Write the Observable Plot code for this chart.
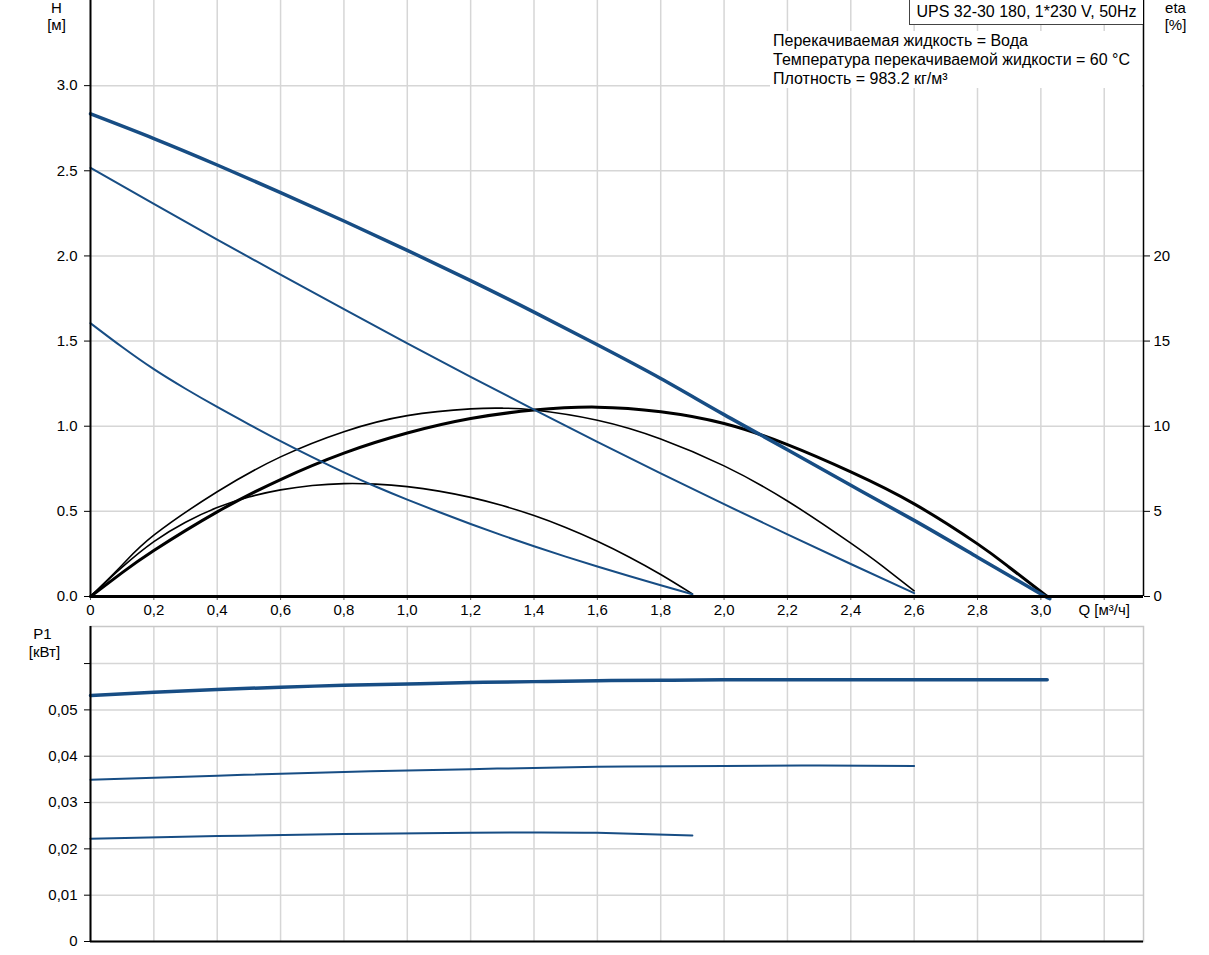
<!DOCTYPE html>
<html><head><meta charset="utf-8">
<script src="https://cdn.jsdelivr.net/npm/d3@7"></script>
<script src="https://cdn.jsdelivr.net/npm/@observablehq/plot@0.6"></script>
<style>
body{margin:0;background:#fff;font-family:"Liberation Sans",Arial,sans-serif;}
#wrap{position:relative;width:1209px;height:955px;overflow:hidden;background:#fff;}
#topPanel{position:absolute;left:0;top:0;}
#botPanel{position:absolute;left:0;top:620px;}
.info{position:absolute;left:770px;top:31px;width:369px;height:57px;background:#fff;font-size:16px;line-height:19px;padding-left:3px;color:#000;white-space:nowrap;}
.title{position:absolute;left:909px;top:0;width:233px;height:24px;border-left:1px solid #444;border-bottom:1px solid #444;background:#fff;font-size:16px;line-height:24px;text-align:center;color:#000;white-space:nowrap;}
</style></head>
<body><div id="wrap"><div id="topPanel"></div><div id="botPanel"></div>
<div class="info">Перекачиваемая жидкость = Вода<br>Температура перекачиваемой жидкости = 60 °C<br>Плотность = 983.2 кг/м³</div>
<div class="title">UPS 32-30 180, 1*230 V, 50Hz</div></div>
<script>
// ---- data ----
const xMax = 3.324;
const hMax = 3.5;
const pMax = 0.068;
const xTicks = [0,0.2,0.4,0.6,0.8,1.0,1.2,1.4,1.6,1.8,2.0,2.2,2.4,2.6,2.8,3.0,3.2];
const hTicks = [0,0.5,1.0,1.5,2.0,2.5,3.0];
const etaTicks = [0,5,10,15,20];
const pTicks = [0,0.01,0.02,0.03,0.04,0.05,0.06];
const qAxisLabel = "Q [м³/ч]";

// H curves [м]
const qH3 = [0,0.2,0.4,0.6,0.8,1.0,1.2,1.4,1.6,1.8,2.0,2.2,2.4,2.6,2.8,3.0,3.02];
const h3  = [2.834,2.689,2.534,2.372,2.205,2.033,1.855,1.670,1.478,1.280,1.068,0.862,0.653,0.447,0.231,0.015,0];
const qH2 = [0,0.2,0.4,0.6,0.8,1.0,1.2,1.4,1.6,1.8,2.0,2.2,2.4,2.6];
const h2  = [2.517,2.305,2.096,1.890,1.687,1.487,1.290,1.097,0.908,0.723,0.542,0.365,0.191,0.02];
const qH1 = [0,0.1,0.2,0.3,0.4,0.5,0.6,0.7,0.8,0.9,1.0,1.1,1.2,1.3,1.4,1.5,1.6,1.7,1.8,1.9];
const h1  = [1.605,1.465,1.335,1.22,1.113,1.011,0.912,0.818,0.729,0.646,0.569,0.496,0.426,0.359,0.295,0.234,0.176,0.12,0.066,0.013];

// eta curves [%]
const qE3 = [0,0.1,0.2,0.4,0.6,0.8,1.0,1.2,1.4,1.6,1.8,2.0,2.2,2.4,2.6,2.8,2.9,3.02];
const e3  = [0,1.4,2.70,4.97,6.87,8.42,9.6,10.45,10.95,11.12,10.85,10.16,8.92,7.32,5.44,3.09,1.72,0];
const qE2 = [0,0.1,0.2,0.4,0.6,0.8,1.0,1.2,1.3,1.4,1.6,1.8,2.0,2.2,2.4,2.5,2.6];
const e2  = [0,1.85,3.6,6.15,8.2,9.68,10.62,11.02,11.06,10.95,10.35,9.25,7.67,5.61,3.13,1.78,0.33];
const qE1 = [0,0.1,0.2,0.3,0.4,0.5,0.6,0.7,0.8,0.9,1.0,1.1,1.2,1.3,1.4,1.5,1.6,1.7,1.8,1.9];
const e1  = [0,1.72,3.22,4.36,5.22,5.84,6.26,6.52,6.63,6.60,6.45,6.19,5.82,5.34,4.75,4.05,3.24,2.32,1.29,0.15];

// P1 curves [кВт]
const qP3 = [0,0.2,0.4,0.6,0.8,1.0,1.2,1.4,1.6,1.8,2.0,2.4,2.8,3.02];
const p3  = [0.0531,0.0538,0.0544,0.0549,0.0553,0.0556,0.0559,0.0561,0.0563,0.0564,0.0565,0.0565,0.0565,0.0565];
const qP2 = [0,0.4,0.8,1.2,1.6,2.0,2.3,2.6];
const p2  = [0.0349,0.0358,0.0366,0.0372,0.0377,0.0379,0.0380,0.0379];
const qP1 = [0,0.4,0.8,1.2,1.4,1.6,1.9];
const p1  = [0.0222,0.02275,0.0232,0.02348,0.02355,0.02345,0.0229];

// ---- helpers ----
const ser = (qs, vs, k=1) => qs.map((q,i)=>({q, v: vs[i]*k}));
const blue = "#174d84";
const grid = "#d6d6d6";
const curve = "natural";
const font = {fontFamily:"'Liberation Sans', Arial, sans-serif", fontSize:"15px", color:"#000", background:"transparent", overflow:"visible"};
const xFmt = d => d === 0 ? "0" : (Math.abs(d-3.2)<1e-9 ? qAxisLabel : d.toFixed(1).replace(".", ","));
const lbl = (t, anchor, dx, dy) => Plot.text([t], {frameAnchor:anchor, dx, dy, textAnchor:"middle", lineAnchor:"middle", fontSize:15, fill:"#000"});

const topChart = Plot.plot({
  width: 1209, height: 620,
  marginLeft: 90, marginRight: 66, marginTop: 0, marginBottom: 24,
  style: font,
  x: {domain:[0,xMax]},
  y: {domain:[0,hMax]},
  marks: [
    Plot.ruleX(xTicks.slice(1), {stroke:grid, strokeWidth:1.5}),
    Plot.ruleY(hTicks.slice(1), {stroke:grid, strokeWidth:1.5}),
    Plot.line(ser(qE1,e1,0.1), {x:"q", y:"v", stroke:"#000", strokeWidth:1.6, curve}),
    Plot.line(ser(qE2,e2,0.1), {x:"q", y:"v", stroke:"#000", strokeWidth:1.6, curve}),
    Plot.line(ser(qE3,e3,0.1), {x:"q", y:"v", stroke:"#000", strokeWidth:3, curve}),
    Plot.line(ser(qH1,h1), {x:"q", y:"v", stroke:blue, strokeWidth:2, curve}),
    Plot.line(ser(qH2,h2), {x:"q", y:"v", stroke:blue, strokeWidth:2, curve}),
    Plot.line(ser(qH3,h3), {x:"q", y:"v", stroke:blue, strokeWidth:3.5, curve}),
    Plot.axisX({ticks:xTicks, tickFormat:xFmt, tickSize:4, tickPadding:4, label:null, stroke:"#555"}),
    Plot.axisY({ticks:hTicks, tickFormat:d3.format(".1f"), tickSize:6, tickPadding:7, label:null}),
    Plot.axisY({anchor:"right", ticks:etaTicks.map(d=>d/10), tickFormat:d=>String(Math.round(d*10)), tickSize:6, tickPadding:4, label:null}),
    Plot.ruleX([0], {stroke:"#000", strokeWidth:2}),
    Plot.ruleX([xMax], {stroke:"#000", strokeWidth:1.5}),
    Plot.ruleY([0], {stroke:"#000", strokeWidth:3}),
    lbl("H", "top-left", -34, 8),
    lbl("[м]", "top-left", -34, 25),
    lbl("eta", "top-right", 32, 8),
    lbl("[%]", "top-right", 32, 25)
  ]
});
document.getElementById("topPanel").appendChild(topChart);

const pFmt = d => d === 0 ? "0" : (Math.abs(d-0.06)<1e-9 ? "" : d.toFixed(2).replace(".", ","));
const botChart = Plot.plot({
  width: 1209, height: 335,
  marginLeft: 90, marginRight: 66, marginTop: 6, marginBottom: 14,
  style: font,
  x: {domain:[0,xMax], axis:null},
  y: {domain:[0,pMax]},
  marks: [
    Plot.ruleX(xTicks.slice(1), {stroke:grid, strokeWidth:1.5}),
    Plot.ruleY(pTicks.slice(1), {stroke:grid, strokeWidth:1.5}),
    Plot.frame({stroke:"#c8c8c8", strokeWidth:1.5}),
    Plot.line(ser(qP1,p1), {x:"q", y:"v", stroke:blue, strokeWidth:2, curve}),
    Plot.line(ser(qP2,p2), {x:"q", y:"v", stroke:blue, strokeWidth:2, curve}),
    Plot.line(ser(qP3,p3), {x:"q", y:"v", stroke:blue, strokeWidth:3.5, curve}),
    Plot.axisY({ticks:pTicks, tickFormat:pFmt, tickSize:6, tickPadding:7, label:null}),
    Plot.ruleX([0], {stroke:"#000", strokeWidth:2}),
    Plot.ruleY([0], {stroke:"#000", strokeWidth:2}),
    lbl("P1", "top-left", -48, 8),
    lbl("[кВт]", "top-left", -46, 26)
  ]
});
document.getElementById("botPanel").appendChild(botChart);
</script>
</body></html>
